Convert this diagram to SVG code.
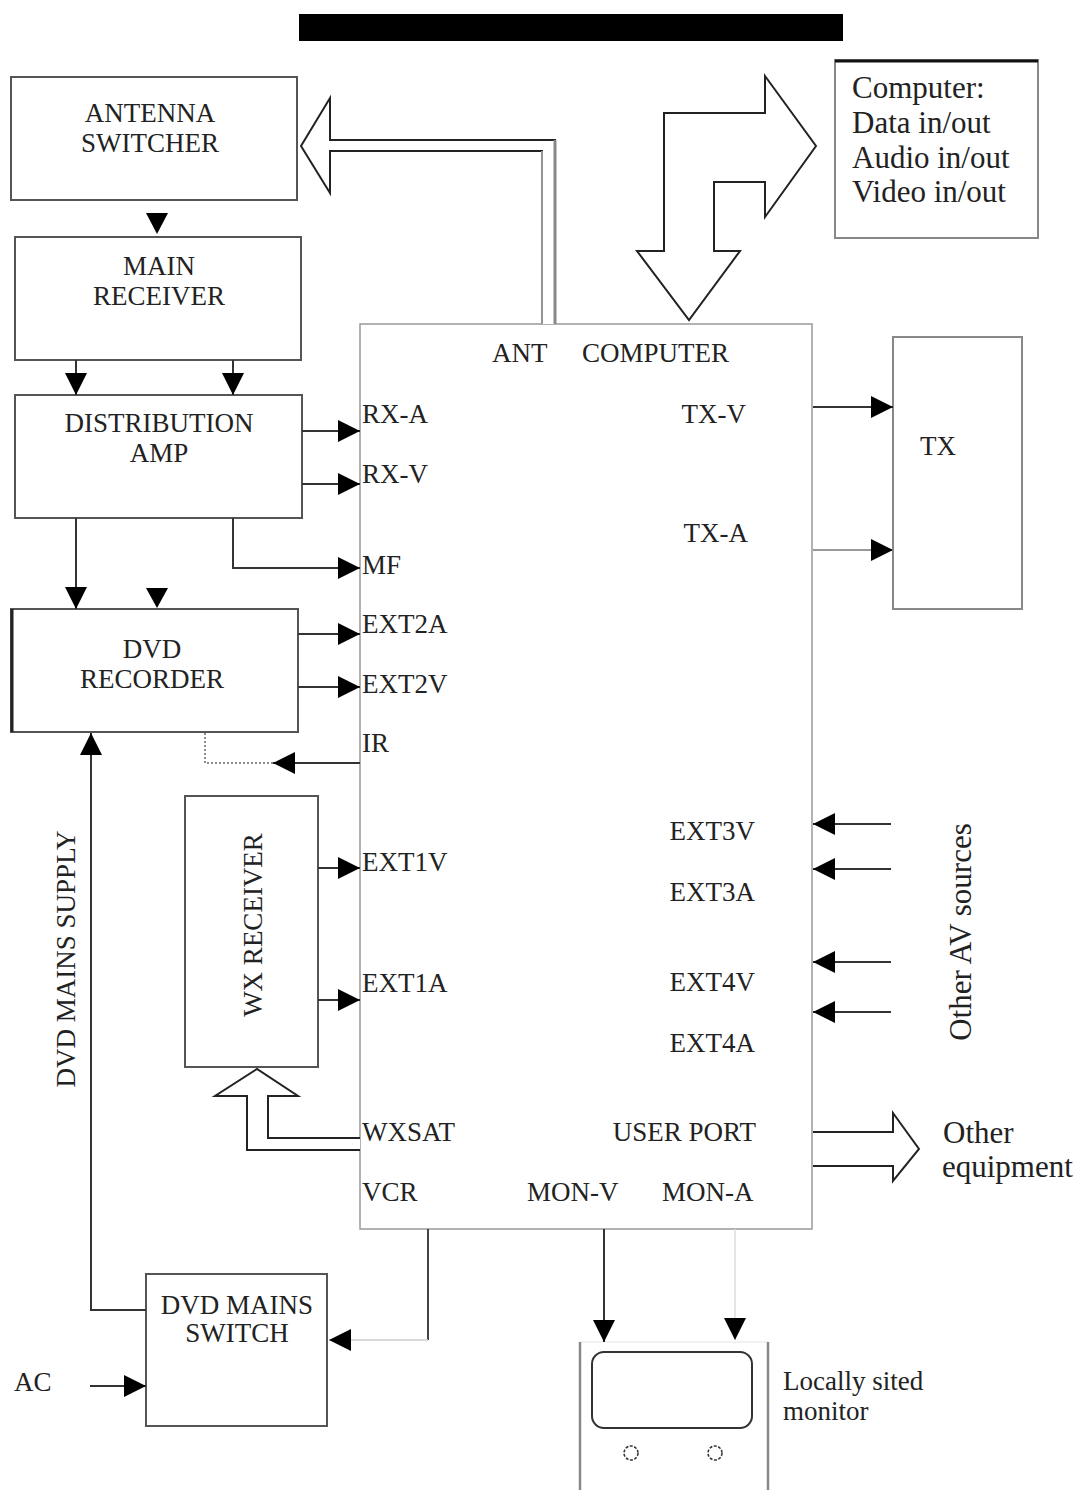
<svg xmlns="http://www.w3.org/2000/svg" width="1083" height="1490" viewBox="0 0 1083 1490">
<style>
text{font-family:"Liberation Serif","Times New Roman",serif;fill:#222}
.lb{font-size:27px}
.big{font-size:31px}
.box{fill:#fff;stroke:#555;stroke-width:2}
.main{fill:#fff;stroke:#999;stroke-width:1.5}
.ln{fill:none;stroke:#333;stroke-width:2}
.lg{fill:none;stroke:#999;stroke-width:2}
.hol{fill:#fff;stroke:#222;stroke-width:2;stroke-linejoin:miter}
.tri{fill:#000}
</style>
<defs>
<marker id="ah" viewBox="0 0 22 22" refX="22" refY="11" markerWidth="22" markerHeight="22" markerUnits="userSpaceOnUse" orient="auto">
<path d="M0,0 L22,11 L0,22 z" fill="#000"/>
</marker>
</defs>
<rect x="0" y="0" width="1083" height="1490" fill="#fff"/>
<rect id="titlebar" x="299" y="14" width="544" height="27" fill="#000"/>

<g id="antenna-switcher">
<rect class="box" x="11" y="77" width="286" height="123"/>
<text class="lb" x="150" y="122" text-anchor="middle">ANTENNA</text>
<text class="lb" x="150" y="152" text-anchor="middle">SWITCHER</text>
</g>
<g id="main-receiver">
<rect class="box" x="15" y="237" width="286" height="123"/>
<text class="lb" x="159" y="275" text-anchor="middle">MAIN</text>
<text class="lb" x="159" y="305" text-anchor="middle">RECEIVER</text>
</g>
<g id="distribution-amp">
<rect class="box" x="15" y="395" width="287" height="123"/>
<text class="lb" x="159" y="432" text-anchor="middle">DISTRIBUTION</text>
<text class="lb" x="159" y="462" text-anchor="middle">AMP</text>
</g>
<g id="dvd-recorder">
<rect class="box" x="11" y="609" width="287" height="123"/>
<line x1="12" y1="609" x2="12" y2="732" stroke="#222" stroke-width="3"/>
<text class="lb" x="152" y="658" text-anchor="middle">DVD</text>
<text class="lb" x="152" y="688" text-anchor="middle">RECORDER</text>
</g>
<g id="wx-receiver">
<rect class="box" x="185" y="796" width="133" height="271"/>
<text class="lb" transform="translate(262,925) rotate(-90)" text-anchor="middle">WX RECEIVER</text>
</g>
<g id="dvd-mains-switch">
<rect class="box" x="146" y="1274" width="181" height="152"/>
<text class="lb" x="237" y="1314" text-anchor="middle">DVD MAINS</text>
<text class="lb" x="237" y="1342" text-anchor="middle">SWITCH</text>
</g>
<g id="computer-box">
<rect x="835" y="60" width="203" height="178" fill="#fff" stroke="#888" stroke-width="2"/>
<line x1="835" y1="61" x2="1038" y2="61" stroke="#111" stroke-width="3"/>
<text class="big" x="852" y="98">Computer:</text>
<text class="big" x="852" y="133">Data in/out</text>
<text class="big" x="852" y="168">Audio in/out</text>
<text class="big" x="852" y="202">Video in/out</text>
</g>
<g id="tx">
<rect x="893" y="337" width="129" height="272" fill="#fff" stroke="#888" stroke-width="2"/>
<text class="lb" x="938" y="455" text-anchor="middle">TX</text>
</g>
<g id="main-unit">
<rect class="main" x="360" y="324" width="452" height="905"/>
<text class="lb" x="492" y="362">ANT</text>
<text class="lb" x="582" y="362">COMPUTER</text>
<text class="lb" x="362" y="423">RX-A</text>
<text class="lb" x="362" y="483">RX-V</text>
<text class="lb" x="362" y="574">MF</text>
<text class="lb" x="362" y="633">EXT2A</text>
<text class="lb" x="362" y="693">EXT2V</text>
<text class="lb" x="362" y="752">IR</text>
<text class="lb" x="362" y="871">EXT1V</text>
<text class="lb" x="362" y="992">EXT1A</text>
<text class="lb" x="362" y="1141">WXSAT</text>
<text class="lb" x="362" y="1201">VCR</text>
<text class="lb" x="527" y="1201">MON-V</text>
<text class="lb" x="662" y="1201">MON-A</text>
<text class="lb" x="746" y="423" text-anchor="end">TX-V</text>
<text class="lb" x="748" y="542" text-anchor="end">TX-A</text>
<text class="lb" x="755" y="840" text-anchor="end">EXT3V</text>
<text class="lb" x="755" y="901" text-anchor="end">EXT3A</text>
<text class="lb" x="755" y="991" text-anchor="end">EXT4V</text>
<text class="lb" x="755" y="1052" text-anchor="end">EXT4A</text>
<text class="lb" x="756" y="1141" text-anchor="end">USER PORT</text>
</g>
<g id="monitor">
<line x1="580" y1="1342" x2="768" y2="1342" stroke="#eee" stroke-width="1.5"/>
<line x1="580" y1="1342" x2="580" y2="1490" stroke="#888" stroke-width="2.5"/>
<line x1="768" y1="1342" x2="768" y2="1490" stroke="#888" stroke-width="2.5"/>
<rect x="592" y="1352" width="160" height="76" rx="12" fill="#fff" stroke="#333" stroke-width="2"/>
<circle cx="631" cy="1453" r="7" fill="none" stroke="#333" stroke-width="1.5" stroke-dasharray="3,1.5"/>
<circle cx="715" cy="1453" r="7" fill="none" stroke="#333" stroke-width="1.5" stroke-dasharray="3,1.5"/>
</g>
<g id="labels">
<text class="lb" x="783" y="1390">Locally sited</text>
<text class="lb" x="783" y="1420">monitor</text>
<text class="big" x="943" y="1143">Other</text>
<text class="big" x="942" y="1177">equipment</text>
<text class="big" transform="translate(971,932) rotate(-90)" text-anchor="middle">Other AV sources</text>
<text class="lb" transform="translate(75,959) rotate(-90)" text-anchor="middle">DVD MAINS SUPPLY</text>
<text class="lb" x="14" y="1391">AC</text>
</g>

<g id="connectors">
<polygon class="tri" points="146,213 168,213 157,234"/>
<line class="ln" x1="76" y1="360" x2="76" y2="395" marker-end="url(#ah)"/>
<line class="ln" x1="233" y1="360" x2="233" y2="395" marker-end="url(#ah)"/>
<line class="ln" x1="302" y1="431" x2="360" y2="431" marker-end="url(#ah)"/>
<line class="ln" x1="302" y1="484" x2="360" y2="484" marker-end="url(#ah)"/>
<polyline class="ln" points="233,518 233,568 360,568" marker-end="url(#ah)" stroke="#555"/>
<line class="ln" x1="76" y1="518" x2="76" y2="609" marker-end="url(#ah)"/>
<polygon class="tri" points="146,588 168,588 157,608"/>
<line class="ln" x1="298" y1="634" x2="360" y2="634" marker-end="url(#ah)"/>
<line class="ln" x1="298" y1="687" x2="360" y2="687" marker-end="url(#ah)"/>
<line class="ln" x1="360" y1="763" x2="273" y2="763" marker-end="url(#ah)" stroke="#555"/>
<polyline points="205,733 205,763 273,763" fill="none" stroke="#666" stroke-width="1.5" stroke-dasharray="2,2"/>
<polyline class="ln" points="146,1310 91,1310 91,733" marker-end="url(#ah)" stroke="#555"/>
<line class="ln" x1="318" y1="868" x2="360" y2="868" marker-end="url(#ah)" stroke="#555"/>
<line class="ln" x1="318" y1="1000" x2="360" y2="1000" marker-end="url(#ah)" stroke="#555"/>
<polyline class="hol" points="360,1150 247,1150 247,1096 215,1096 257,1069 298,1096 268,1096 268,1138 360,1138"/>
<polyline points="428,1229 428,1340" fill="none" stroke="#444" stroke-width="2"/>
<line x1="428" y1="1340" x2="329" y2="1340" stroke="#ccc" stroke-width="1.5" marker-end="url(#ah)"/>
<line class="ln" x1="90" y1="1386" x2="146" y2="1386" marker-end="url(#ah)"/>
<line class="ln" x1="604" y1="1229" x2="604" y2="1342" marker-end="url(#ah)"/>
<line x1="735" y1="1229" x2="735" y2="1340" stroke="#ddd" stroke-width="1.5" marker-end="url(#ah)"/>
<line class="ln" x1="813" y1="407" x2="893" y2="407" marker-end="url(#ah)"/>
<line class="lg" x1="813" y1="550" x2="893" y2="550" marker-end="url(#ah)"/>
<line class="ln" x1="891" y1="824" x2="813" y2="824" marker-end="url(#ah)"/>
<line class="ln" x1="891" y1="869" x2="813" y2="869" marker-end="url(#ah)" stroke="#555"/>
<line class="ln" x1="891" y1="962" x2="813" y2="962" marker-end="url(#ah)" stroke="#555"/>
<line class="ln" x1="891" y1="1012" x2="813" y2="1012" marker-end="url(#ah)" stroke="#555"/>
<polyline class="hol" points="813,1132 893,1132 893,1113 919,1149 893,1181 893,1166 813,1166" stroke="#333"/>
<polyline class="hol" points="542,324 542,151 330,151 330,193 301,146 330,98 330,140 555,140 555,324" stroke="#222"/>
<line x1="555" y1="140" x2="555" y2="324" stroke="#888" stroke-width="3"/>
<line x1="542" y1="151" x2="542" y2="324" stroke="#bbb" stroke-width="1.5"/>
<polygon class="hol" points="664,251 637,251 689,320 740,251 714,251 714,182 765,182 765,217 816,146 765,76 765,113 664,113"/>
</g>
</svg>
